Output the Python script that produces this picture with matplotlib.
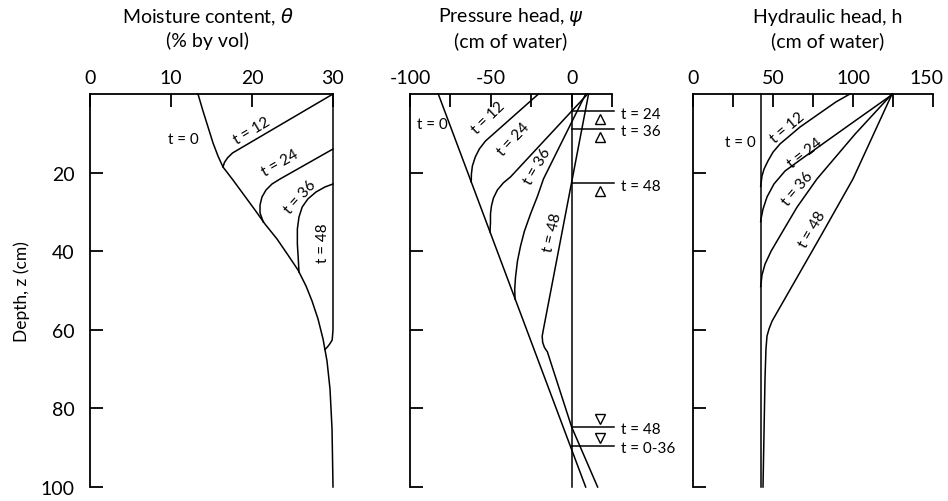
import matplotlib
matplotlib.use("Agg")
import matplotlib.pyplot as plt
from matplotlib.transforms import ScaledTranslation

plt.rcParams['font.family'] = ['Lato', 'DejaVu Sans']

# depth profiles: (value, depth z in cm)
theta_t0 = [13.33, 13.95, 14.57, 15.19, 15.80, 16.42, 17.65, 19.01, 20.37, 21.60, 23.09, 24.44,
            25.68, 26.67, 27.41, 28.15, 28.77, 29.26, 29.63, 29.88, 30.0]
theta_t0_z = [0, 4.33, 8.40, 12.47, 15.78, 18.58, 21.88, 25.70, 29.52, 33.08, 36.90, 40.97,
              44.78, 48.85, 52.67, 57.25, 62.34, 67.94, 75.06, 85.24, 100]
theta_t12 = [30, 17.6, 17.0, 16.6, 16.42]
theta_t12_z = [0, 15.0, 16.2, 17.4, 18.58]
theta_t24 = [30, 23.46, 22.47, 21.73, 21.23, 20.99, 20.99, 21.4]
theta_t24_z = [14, 21.63, 22.90, 24.43, 26.21, 28.24, 30.28, 32.6]
theta_t36 = [30, 29.0, 27.9, 26.9, 26.2, 25.8, 25.6, 25.6, 25.7, 25.8]
theta_t36_z = [22.9, 23.66, 24.94, 26.7, 28.75, 31.3, 34.35, 38.17, 41.48, 45.29]
theta_t48 = [30, 30, 29.9, 29.6, 29.3, 29.0]
theta_t48_z = [0, 60, 62.6, 63.6, 64.4, 65]

psi_t0 = [-82.5, 8.7]
psi_t0_z = [0, 100]
psi_t12 = [-20.5, -53.3, -57.1, -59.6, -61.4, -62.0, -62.1]
psi_t12_z = [0, 11.96, 13.99, 16.03, 18.32, 20.36, 22.39]
psi_t24 = [9.9, -37.8, -42.2, -45.9, -48.4, -49.6, -50.2, -50.2, -50.5]
psi_t24_z = [0, 21.1, 22.6, 24.4, 26.5, 28.5, 30.5, 32.8, 35.1]
psi_t36 = [8.7, -17.4, -21.1, -25.4, -29.2, -31.6, -33.5, -34.7, -35.2, -35.0]
psi_t36_z = [0, 21.6, 26.0, 30.5, 34.9, 38.7, 42.5, 46.6, 49.6, 52.2]
psi_t48 = [10.5, -17.4, -18.2, -17.9, -16.8, -15.0, 0, 16.1]
psi_t48_z = [0, 59.8, 61.6, 63.2, 64.5, 65.6, 84.7, 100]

h_t0 = [42.3, 42.3]
h_t0_z = [0, 100]
h_t12 = [98.1, 89.4, 81.3, 66.9, 54.4, 50.0, 46.9, 44.4, 43.1, 42.5, 42.3]
h_t12_z = [0, 2.0, 4.3, 8.4, 12.7, 14.8, 17.0, 19.1, 20.9, 22.9, 23.5]
h_t24 = [125, 95, 66.9, 57.5, 50.6, 46.25, 43.75, 42.5, 42.3]
h_t24_z = [0, 8.65, 16.8, 19.6, 22.9, 26.2, 29.3, 31.8, 32.5]
h_t36 = [124.4, 101.3, 77.5, 65.0, 54.4, 48.8, 45.0, 43.1, 42.5, 42.3]
h_t36_z = [0, 10.2, 21.6, 28.8, 36.1, 40.0, 43.3, 46.1, 48.3, 49.0]
h_t48 = [124.4, 100, 80.6, 49.4, 47.5, 46.25, 45.6, 45.0, 43.75]
h_t48_z = [0, 21.6, 35.6, 57.8, 59.8, 61.6, 64.9, 72.5, 100]

# water table / saturation levels in the pressure head panel
wt_top_z = [4.4, 8.9, 22.7]
wt_top_labels = ['t = 24', 't = 36', 't = 48']
wt_bot_z = [84.7, 89.6]
wt_bot_labels = ['t = 48', 't = 0-36']

depth_ticks = [20, 40, 60, 80, 100]

fig = plt.figure(figsize=(9.48, 5.02), dpi=100)
W, H = 948.0, 502.0
bot = 14 / H
hgt = 393 / H
ax1 = fig.add_axes([90 / W, bot, 243 / W, hgt])
ax2 = fig.add_axes([410 / W, bot, 202 / W, hgt])
ax3 = fig.add_axes([693 / W, bot, 240 / W, hgt])


def frame(ax, xlim, xticks, xlabels, ylabels):
    ax.set_xlim(xlim)
    ax.set_ylim(100, 0)
    ax.spines['right'].set_visible(False)
    ax.spines['bottom'].set_visible(False)
    ax.spines['top'].set_linewidth(1.3)
    ax.spines['left'].set_linewidth(1.3)
    ax.xaxis.tick_top()
    ax.set_xticks(xticks)
    ax.set_xticklabels(xlabels)
    ax.set_yticks(depth_ticks)
    ax.set_yticklabels([str(d) for d in depth_ticks] if ylabels else [])
    ax.tick_params(axis='both', direction='in', length=9.4, width=1.3, labelsize=14)
    ax.tick_params(axis='x', pad=6)
    ax.tick_params(axis='y', pad=11)


def curve(ax, x, z):
    ax.plot(x, z, color='black', lw=1.1, clip_on=False, solid_joinstyle='round')


def tlabel(ax, x, z, s, rot=0):
    ax.text(x, z, s, rotation=rot, rotation_mode='anchor', ha='center', va='center', fontsize=11)


# moisture content
frame(ax1, (0, 30), [0, 10, 20, 30], ['0', '10', '20', '30'], True)
curve(ax1, theta_t0, theta_t0_z)
curve(ax1, theta_t12, theta_t12_z)
curve(ax1, theta_t24, theta_t24_z)
curve(ax1, theta_t36, theta_t36_z)
curve(ax1, theta_t48, theta_t48_z)
tlabel(ax1, 11.5, 11.5, 't = 0')
tlabel(ax1, 20.0, 9.3, 't = 12', 31)
tlabel(ax1, 23.5, 17.4, 't = 24', 30)
tlabel(ax1, 26.0, 26.0, 't = 36', 48)
tlabel(ax1, 28.8, 37.7, 't = 48', 90)

# pressure head
frame(ax2, (-100, 25), [-100, -75, -50, -25, 0, 25], ['-100', '', '-50', '', '0', ''], False)
ax2.plot([0, 0], [0, 100], color='black', lw=1.1, clip_on=False)
curve(ax2, psi_t0, psi_t0_z)
curve(ax2, psi_t12, psi_t12_z)
curve(ax2, psi_t24, psi_t24_z)
curve(ax2, psi_t36, psi_t36_z)
curve(ax2, psi_t48, psi_t48_z)
tlabel(ax2, -86, 7.6, 't = 0')
tlabel(ax2, -51.5, 6.0, 't = 12', 44)
tlabel(ax2, -36, 11.5, 't = 24', 47)
tlabel(ax2, -21, 18.3, 't = 36', 60)
tlabel(ax2, -12, 35, 't = 48', 77)
for z, s in zip(wt_top_z, wt_top_labels):
    ax2.plot([0, 26], [z, z], color='black', lw=1.1, clip_on=False)
    ax2.plot(17.4, z + 2.0, marker='^', ms=7, mfc='white', mec='black', mew=1.0, clip_on=False)
    ax2.text(30.4, z + 0.6, s, ha='left', va='center', fontsize=11)
for z, s in zip(wt_bot_z, wt_bot_labels):
    ax2.plot([0, 26], [z, z], color='black', lw=1.1, clip_on=False)
    ax2.plot(17.4, z - 2.0, marker='v', ms=7, mfc='white', mec='black', mew=1.0, clip_on=False)
    ax2.text(30.4, z + 0.6, s, ha='left', va='center', fontsize=11)

# hydraulic head
frame(ax3, (0, 150), [0, 25, 50, 75, 100, 125, 150], ['0', '', '50', '', '100', '', '150'], False)
last = ax3.get_xticklabels()[-1]
last.set_transform(last.get_transform() + ScaledTranslation(-5 / 72, 0, fig.dpi_scale_trans))
curve(ax3, h_t0, h_t0_z)
curve(ax3, h_t12, h_t12_z)
curve(ax3, h_t24, h_t24_z)
curve(ax3, h_t36, h_t36_z)
curve(ax3, h_t48, h_t48_z)
tlabel(ax3, 29.4, 12.2, 't = 0')
tlabel(ax3, 59.4, 8.4, 't = 12', 40)
tlabel(ax3, 70, 14.8, 't = 24', 38)
tlabel(ax3, 65.6, 24, 't = 36', 50)
tlabel(ax3, 74.4, 34.4, 't = 48', 60)

# panel titles
titles = [(208, 'Moisture content, $\\theta$', '(% by vol)'),
          (511, 'Pressure head, $\\psi$', '(cm of water)'),
          (828, 'Hydraulic head, h', '(cm of water)')]
for xc, l1, l2 in titles:
    fig.text(xc / W, 1 - 17 / H, l1, ha='center', va='center', fontsize=14)
    fig.text(xc / W, 1 - 41 / H, l2, ha='center', va='center', fontsize=14)

fig.text(22 / W, 1 - 292 / H, 'Depth, z (cm)', rotation=90, ha='center', va='center', fontsize=12.5)

fig.savefig('out.png', dpi=100)
